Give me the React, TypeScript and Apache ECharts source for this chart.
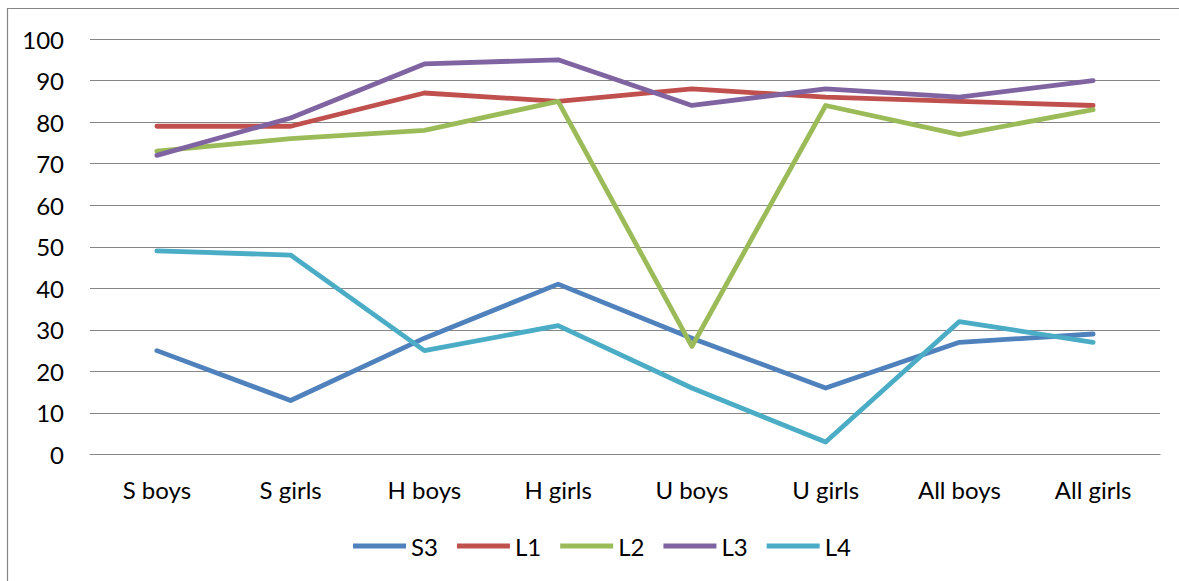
import React, { useEffect, useRef } from "react";
import * as echarts from "echarts";

const categories = ["S boys", "S girls", "H boys", "H girls", "U boys", "U girls", "All boys", "All girls"];
const seriesNames = ["S3", "L1", "L2", "L3", "L4"];
const s3 = [25, 13, 28, 41, 28, 16, 27, 29];
const l1 = [79, 79, 87, 85, 88, 86, 85, 84];
const l2 = [73, 76, 78, 85, 26, 84, 77, 83];
const l3 = [72, 81, 94, 95, 84, 88, 86, 90];
const l4 = [49, 48, 25, 31, 16, 3, 32, 27];
const colors = ["#4F81BD", "#C0504D", "#9BBB59", "#8064A2", "#4BACC6"];

export default function App() {
  const ref = useRef<HTMLDivElement>(null);
  useEffect(() => {
    if (!ref.current) return;
    const chart = echarts.init(ref.current, undefined, { renderer: "svg" });
    const font = "Lato, 'Liberation Sans', sans-serif";
    const data = [s3, l1, l2, l3, l4];
    chart.setOption({
      animation: false,
      backgroundColor: "#ffffff",
      color: colors,
      textStyle: { fontFamily: font },
      graphic: [
        {
          type: "rect",
          shape: { x: 7.5, y: 8.5, width: 1185, height: 590 },
          style: { fill: "none", stroke: "#868686", lineWidth: 1.2 },
          silent: true,
        },
      ],
      grid: { left: 90, right: 19, top: 39, bottom: 126.5, containLabel: false },
      legend: {
        data: seriesNames,
        left: 348,
        top: 529,
        icon: "rect",
        itemWidth: 53,
        itemHeight: 5,
        itemGap: 19,
        textStyle: { fontFamily: font, fontSize: 24, color: "#000" },
      },
      xAxis: {
        type: "category",
        data: categories,
        boundaryGap: true,
        axisLine: { show: true, lineStyle: { color: "#868686", width: 1.2 } },
        axisTick: { show: false },
        axisLabel: { color: "#000", fontSize: 24, fontFamily: font, margin: 23 },
        splitLine: { show: false },
      },
      yAxis: {
        type: "value",
        min: 0,
        max: 100,
        interval: 10,
        axisLine: { show: false },
        axisTick: { show: false },
        axisLabel: { color: "#000", fontSize: 24, fontFamily: font, margin: 26 },
        splitLine: { show: true, lineStyle: { color: "#868686", width: 1.2 } },
      },
      series: seriesNames.map((name, i) => ({
        name,
        type: "line",
        data: data[i],
        symbol: "none",
        showSymbol: false,
        lineStyle: { width: 4.8, color: colors[i], cap: "round", join: "round" },
        itemStyle: { color: colors[i] },
      })),
    });
    return () => chart.dispose();
  }, []);
  return (
    <div
      ref={ref}
      style={{ position: "fixed", left: 0, top: 0, width: 1179, height: 581 }}
    />
  );
}
